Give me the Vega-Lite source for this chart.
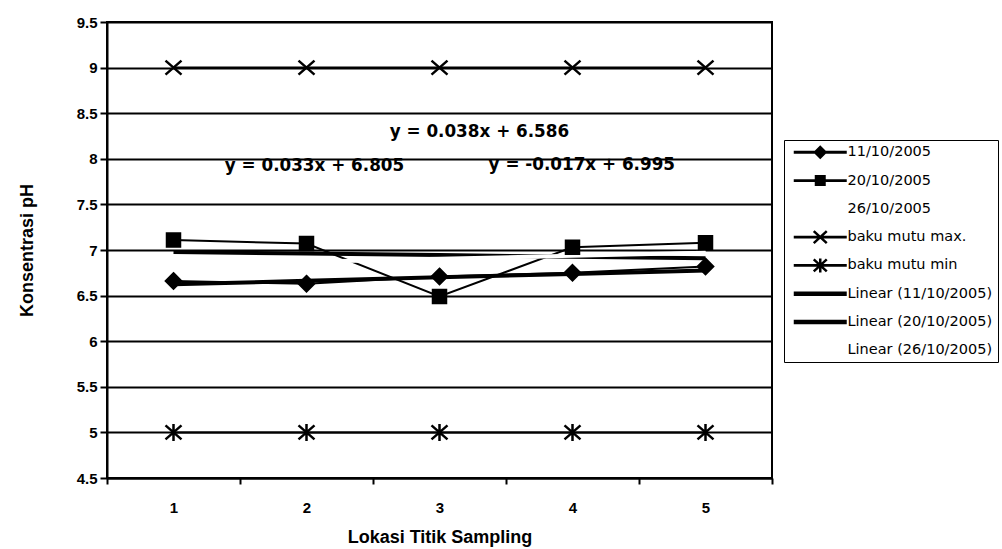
{
  "$schema": "https://vega.github.io/schema/vega-lite/v6.json",
  "width": 665,
  "height": 456,
  "autosize": "none",
  "padding": {"left": 107, "top": 22, "right": 230, "bottom": 71},
  "background": "white",
  "config": {
    "view": {"stroke": "black", "strokeWidth": 2},
    "font": "Liberation Sans",
    "axis": {
      "domainColor": "black", "domainWidth": 2, "tickColor": "black", "tickWidth": 2,
      "labelColor": "black", "titleColor": "black", "labelFont": "Liberation Sans", "titleFont": "Liberation Sans",
      "labelFontWeight": "bold", "titleFontWeight": "bold", "labelFontSize": 15, "titleFontSize": 18
    }
  },
  "datasets": {
    "pts": [
      {"lokasi": 1, "ph": 6.66, "seri": "11/10/2005", "jenis": "obs"},
      {"lokasi": 2, "ph": 6.63, "seri": "11/10/2005", "jenis": "obs"},
      {"lokasi": 3, "ph": 6.71, "seri": "11/10/2005", "jenis": "obs"},
      {"lokasi": 4, "ph": 6.75, "seri": "11/10/2005", "jenis": "obs"},
      {"lokasi": 5, "ph": 6.82, "seri": "11/10/2005", "jenis": "obs"},
      {"lokasi": 1, "ph": 7.11, "seri": "20/10/2005", "jenis": "obs"},
      {"lokasi": 2, "ph": 7.07, "seri": "20/10/2005", "jenis": "obs"},
      {"lokasi": 3, "ph": 6.49, "seri": "20/10/2005", "jenis": "obs"},
      {"lokasi": 4, "ph": 7.03, "seri": "20/10/2005", "jenis": "obs"},
      {"lokasi": 5, "ph": 7.08, "seri": "20/10/2005", "jenis": "obs"},
      {"lokasi": 1, "ph": 6.85, "seri": "26/10/2005", "jenis": "obs"},
      {"lokasi": 2, "ph": 6.86, "seri": "26/10/2005", "jenis": "obs"},
      {"lokasi": 3, "ph": 6.90, "seri": "26/10/2005", "jenis": "obs"},
      {"lokasi": 4, "ph": 6.93, "seri": "26/10/2005", "jenis": "obs"},
      {"lokasi": 5, "ph": 6.98, "seri": "26/10/2005", "jenis": "obs"},
      {"lokasi": 1, "ph": 9, "seri": "baku mutu max.", "jenis": "obs"},
      {"lokasi": 2, "ph": 9, "seri": "baku mutu max.", "jenis": "obs"},
      {"lokasi": 3, "ph": 9, "seri": "baku mutu max.", "jenis": "obs"},
      {"lokasi": 4, "ph": 9, "seri": "baku mutu max.", "jenis": "obs"},
      {"lokasi": 5, "ph": 9, "seri": "baku mutu max.", "jenis": "obs"},
      {"lokasi": 1, "ph": 5, "seri": "baku mutu min", "jenis": "obs"},
      {"lokasi": 2, "ph": 5, "seri": "baku mutu min", "jenis": "obs"},
      {"lokasi": 3, "ph": 5, "seri": "baku mutu min", "jenis": "obs"},
      {"lokasi": 4, "ph": 5, "seri": "baku mutu min", "jenis": "obs"},
      {"lokasi": 5, "ph": 5, "seri": "baku mutu min", "jenis": "obs"},
      {"lokasi": 1, "ph": 6.624, "seri": "Linear (11/10/2005)", "jenis": "trend"},
      {"lokasi": 2, "ph": 6.662, "seri": "Linear (11/10/2005)", "jenis": "trend"},
      {"lokasi": 3, "ph": 6.700, "seri": "Linear (11/10/2005)", "jenis": "trend"},
      {"lokasi": 4, "ph": 6.738, "seri": "Linear (11/10/2005)", "jenis": "trend"},
      {"lokasi": 5, "ph": 6.776, "seri": "Linear (11/10/2005)", "jenis": "trend"},
      {"lokasi": 1, "ph": 6.978, "seri": "Linear (20/10/2005)", "jenis": "trend"},
      {"lokasi": 2, "ph": 6.961, "seri": "Linear (20/10/2005)", "jenis": "trend"},
      {"lokasi": 3, "ph": 6.944, "seri": "Linear (20/10/2005)", "jenis": "trend"},
      {"lokasi": 4, "ph": 6.927, "seri": "Linear (20/10/2005)", "jenis": "trend"},
      {"lokasi": 5, "ph": 6.910, "seri": "Linear (20/10/2005)", "jenis": "trend"},
      {"lokasi": 1, "ph": 6.838, "seri": "Linear (26/10/2005)", "jenis": "trend"},
      {"lokasi": 2, "ph": 6.871, "seri": "Linear (26/10/2005)", "jenis": "trend"},
      {"lokasi": 3, "ph": 6.904, "seri": "Linear (26/10/2005)", "jenis": "trend"},
      {"lokasi": 4, "ph": 6.937, "seri": "Linear (26/10/2005)", "jenis": "trend"},
      {"lokasi": 5, "ph": 6.970, "seri": "Linear (26/10/2005)", "jenis": "trend"}
    ],
    "notes": [
      {"lokasi": 3.3, "ph": 8.29, "teks": "y = 0.038x + 6.586"},
      {"lokasi": 2.06, "ph": 7.92, "teks": "y = 0.033x + 6.805"},
      {"lokasi": 4.07, "ph": 7.93, "teks": "y = -0.017x + 6.995"}
    ]
  },
  "layer": [
    {
      "data": {"name": "pts"},
      "transform": [{"filter": "datum.jenis == 'obs'"}],
      "mark": {"type": "line", "strokeWidth": 2},
      "encoding": {
        "x": {"field": "lokasi", "type": "quantitative", "scale": {"domain": [0.5, 5.5], "nice": false, "zero": false},
          "axis": {"values": [0.5, 1, 1.5, 2, 2.5, 3, 3.5, 4, 4.5, 5, 5.5], "grid": false,
            "labelExpr": "datum.value % 1 == 0 ? datum.value : ''",
            "tickOpacity": {"condition": {"test": "datum.value % 1 == 0", "value": 0}, "value": 1},
            "tickSize": 6, "labelPadding": 16, "title": "Lokasi Titik Sampling", "titlePadding": 13}},
        "y": {"field": "ph", "type": "quantitative", "scale": {"domain": [4.5, 9.5], "nice": false, "zero": false},
          "axis": {"values": [4.5, 5, 5.5, 6, 6.5, 7, 7.5, 8, 8.5, 9, 9.5], "grid": true, "gridColor": "black", "gridWidth": 2, "gridOpacity": 1,
            "labelExpr": "'' + datum.value", "tickSize": 7, "labelPadding": 3,
            "title": "Konsentrasi pH", "titlePadding": 40}},
        "detail": {"field": "seri"},
        "color": {"field": "seri", "type": "nominal", "legend": null,
          "scale": {"domain": ["11/10/2005", "20/10/2005", "26/10/2005", "baku mutu max.", "baku mutu min", "Linear (11/10/2005)", "Linear (20/10/2005)", "Linear (26/10/2005)"],
            "range": ["black", "black", "white", "black", "black", "black", "black", "white"]}}
      }
    },
    {
      "data": {"name": "pts"},
      "transform": [{"filter": "datum.jenis == 'trend'"}],
      "mark": {"type": "line", "strokeWidth": 4},
      "encoding": {
        "x": {"field": "lokasi", "type": "quantitative"},
        "y": {"field": "ph", "type": "quantitative"},
        "detail": {"field": "seri"},
        "color": {"field": "seri", "type": "nominal", "legend": null}
      }
    },
    {
      "data": {"name": "pts"},
      "transform": [{"filter": "datum.jenis == 'obs' && datum.seri != '26/10/2005'"}],
      "mark": {"type": "point", "filled": true, "fill": "black", "stroke": "black", "strokeWidth": 2.5, "size": 100, "opacity": 1},
      "encoding": {
        "x": {"field": "lokasi", "type": "quantitative"},
        "y": {"field": "ph", "type": "quantitative"},
        "shape": {"field": "seri", "type": "nominal", "legend": null,
          "scale": {"domain": ["11/10/2005", "20/10/2005", "baku mutu max.", "baku mutu min"],
            "range": ["M0,-1.5L1.5,0L0,1.5L-1.5,0Z", "M-1.3,-1.3L1.3,-1.3L1.3,1.3L-1.3,1.3Z", "M-1.6,-1.4L1.6,1.4M-1.6,1.4L1.6,-1.4", "M-1.6,-1.4L1.6,1.4M-1.6,1.4L1.6,-1.4M0,-1.7L0,1.7"]}}
      }
    },
    {
      "data": {"name": "pts"},
      "mark": {"type": "point", "opacity": 0, "filled": true, "fill": "black", "stroke": "black", "strokeWidth": 2.5},
      "encoding": {
        "x": {"field": "lokasi", "type": "quantitative"},
        "y": {"field": "ph", "type": "quantitative"},
        "shape": {"field": "seri", "type": "nominal",
          "scale": {"domain": ["11/10/2005", "20/10/2005", "26/10/2005", "baku mutu max.", "baku mutu min", "Linear (11/10/2005)", "Linear (20/10/2005)", "Linear (26/10/2005)"],
            "range": [
              "M-5.3,-0.28L-5.3,0.28L5.3,0.28L5.3,-0.28ZM0,-1.4L-1.4,0L0,1.4L1.4,0Z",
              "M-5.3,-0.28L-5.3,0.28L5.3,0.28L5.3,-0.28ZM-1.1,-1.1L-1.1,1.1L1.1,1.1L1.1,-1.1Z",
              "M0,0",
              "M-5.3,-0.28L-5.3,0.28L5.3,0.28L5.3,-0.28ZM-1.47,-1.02L1.13,1.38L1.47,1.02L-1.13,-1.38ZM-1.13,1.38L1.47,-1.02L1.13,-1.38L-1.47,1.02Z",
              "M-5.3,-0.28L-5.3,0.28L5.3,0.28L5.3,-0.28ZM-1.47,-1.02L1.13,1.38L1.47,1.02L-1.13,-1.38ZM-1.13,1.38L1.47,-1.02L1.13,-1.38L-1.47,1.02ZM-0.25,-1.4L-0.25,1.4L0.25,1.4L0.25,-1.4Z",
              "M-5.3,-0.45L-5.3,0.45L5.3,0.45L5.3,-0.45Z",
              "M-5.3,-0.45L-5.3,0.45L5.3,0.45L5.3,-0.45Z",
              "M0,0"
            ]},
          "legend": {
            "title": null, "orient": "none", "legendX": 677, "legendY": 118,
            "padding": 5, "rowPadding": 3.3, "symbolOffset": 24, "labelOffset": 20,
            "gridAlign": "all",
            "symbolSize": 100, "symbolStrokeWidth": 2.5, "symbolOpacity": 1,
            "symbolFillColor": "black", "symbolStrokeColor": "black",
            "labelFont": "DejaVu Sans", "labelFontSize": 14.5, "labelColor": "black", "labelLimit": 300,
            "strokeColor": "black"
          }
        }
      }
    },
    {
      "data": {"name": "notes"},
      "mark": {"type": "text", "font": "DejaVu Sans", "fontWeight": "bold", "fontSize": 16.8, "color": "black", "align": "center", "baseline": "middle"},
      "encoding": {
        "x": {"field": "lokasi", "type": "quantitative"},
        "y": {"field": "ph", "type": "quantitative"},
        "text": {"field": "teks"}
      }
    }
  ],
  "resolve": {"scale": {"shape": "independent"}, "legend": {"shape": "independent"}}
}
